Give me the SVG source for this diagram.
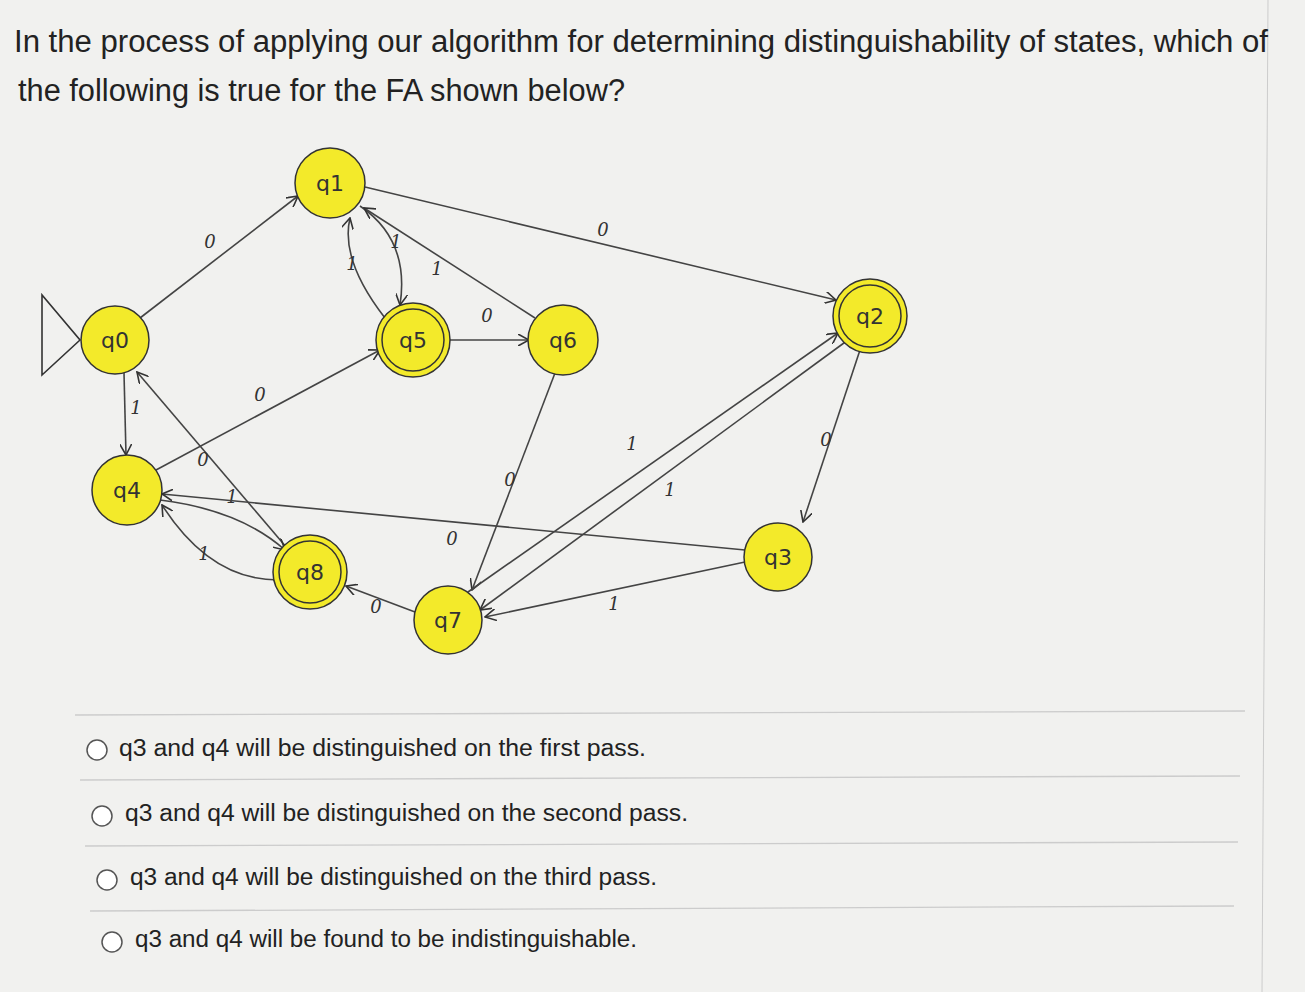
<svg xmlns="http://www.w3.org/2000/svg" width="1305" height="992" viewBox="0 0 1305 992">
<defs>
<marker id="a" viewBox="0 0 12 12" refX="11" refY="6" markerWidth="12" markerHeight="12" markerUnits="userSpaceOnUse" orient="auto"><path d="M0,0 L11,6 L0,12" fill="none" stroke="#333" stroke-width="1.6"/></marker>
</defs>
<style>
.n{fill:#f3ea2a;stroke:#333;stroke-width:1.5}
.t{font-family:"DejaVu Sans",sans-serif;font-size:22px;fill:#333;text-anchor:middle}
.e{fill:none;stroke:#444;stroke-width:1.6;marker-end:url(#a)}
.l{font-family:"DejaVu Serif",serif;font-style:italic;font-size:18px;fill:#333;text-anchor:middle}
.q{font-family:"Liberation Sans",Arial,sans-serif;font-size:31px;fill:#222}
.o{font-family:"Liberation Sans",Arial,sans-serif;font-size:23px;fill:#222}
.r{fill:#fff;stroke:#555;stroke-width:1.5}
.h{stroke:#ccc;stroke-width:1.3}
</style>
<rect width="1305" height="992" fill="#f1f1ef"/>
<line x1="1268" y1="0" x2="1262" y2="992" stroke="#ccc"/>
<text class="q" x="14" y="52" textLength="1254" lengthAdjust="spacingAndGlyphs">In the process of applying our algorithm for determining distinguishability of states, which of</text>
<text class="q" x="18" y="101" textLength="607" lengthAdjust="spacingAndGlyphs">the following is true for the FA shown below?</text>
<g id="connectors">
<path d="M42,295 L42,375 L80,340 Z" fill="none" stroke="#333" stroke-width="1.6"/>
<path class="e" d="M140,318 L298,196"/><text class="l" x="210" y="248">0</text>
<path class="e" d="M365,187 L836,300"/><text class="l" x="603" y="236">0</text>
<path class="e" d="M385,318 Q340,260 350,218"/><text class="l" x="352" y="270">1</text>
<path class="e" d="M360,206 Q410,240 400,305"/><text class="l" x="396" y="248">1</text>
<path class="e" d="M535,318 L364,208"/><text class="l" x="437" y="275">1</text>
<path class="e" d="M449,340 L529,340"/><text class="l" x="487" y="322">0</text>
<path class="e" d="M124,373 L126,455"/><text class="l" x="136" y="414">1</text>
<path class="e" d="M156,470 L380,350"/><text class="l" x="260" y="401">0</text>
<path class="e" d="M287,548 L137,372"/><text class="l" x="203" y="466">0</text>
<path class="e" d="M160,500 Q240,510 285,550"/><text class="l" x="232" y="503">1</text>
<path class="e" d="M278,580 Q210,580 162,505"/><text class="l" x="204" y="560">1</text>
<path class="e" d="M745,550 L162,494"/><text class="l" x="452" y="545">0</text>
<path class="e" d="M555,373 L472,590"/><text class="l" x="510" y="486">0</text>
<path class="e" d="M468,592 L838,333"/><text class="l" x="632" y="450">1</text>
<path class="e" d="M848,340 L480,610"/><text class="l" x="670" y="496">1</text>
<path class="e" d="M860,350 L803,522"/><text class="l" x="826" y="446">0</text>
<path class="e" d="M745,562 L485,617"/><text class="l" x="614" y="610">1</text>
<path class="e" d="M415,612 L346,586"/><text class="l" x="376" y="613">0</text>
</g>
<g id="q0"><circle class="n" cx="115" cy="340" r="34"/><text class="t" x="115" y="348">q0</text></g>
<g id="q1"><circle class="n" cx="330" cy="183" r="35"/><text class="t" x="330" y="191">q1</text></g>
<g id="q5"><circle class="n" cx="413" cy="340" r="37"/><circle cx="413" cy="340" r="31" fill="none" stroke="#333" stroke-width="1.5"/><text class="t" x="413" y="348">q5</text></g>
<g id="q6"><circle class="n" cx="563" cy="340" r="35"/><text class="t" x="563" y="348">q6</text></g>
<g id="q2"><circle class="n" cx="870" cy="316" r="37"/><circle cx="870" cy="316" r="31" fill="none" stroke="#333" stroke-width="1.5"/><text class="t" x="870" y="324">q2</text></g>
<g id="q4"><circle class="n" cx="127" cy="490" r="35"/><text class="t" x="127" y="498">q4</text></g>
<g id="q8"><circle class="n" cx="310" cy="572" r="37"/><circle cx="310" cy="572" r="31" fill="none" stroke="#333" stroke-width="1.5"/><text class="t" x="310" y="580">q8</text></g>
<g id="q7"><circle class="n" cx="448" cy="620" r="34"/><text class="t" x="448" y="628">q7</text></g>
<g id="q3"><circle class="n" cx="778" cy="557" r="34"/><text class="t" x="778" y="565">q3</text></g>
<g id="options">
<line class="h" x1="75" y1="715" x2="1245" y2="711"/>
<circle class="r" cx="97" cy="750" r="10"/><text class="o" x="119" y="756" textLength="527" lengthAdjust="spacingAndGlyphs">q3 and q4 will be distinguished on the first pass.</text>
<line class="h" x1="80" y1="780" x2="1240" y2="776"/>
<circle class="r" cx="102" cy="816" r="10"/><text class="o" x="125" y="821" textLength="563" lengthAdjust="spacingAndGlyphs">q3 and q4 will be distinguished on the second pass.</text>
<line class="h" x1="85" y1="846" x2="1238" y2="842"/>
<circle class="r" cx="107" cy="880" r="10"/><text class="o" x="130" y="885" textLength="527" lengthAdjust="spacingAndGlyphs">q3 and q4 will be distinguished on the third pass.</text>
<line class="h" x1="90" y1="911" x2="1234" y2="906"/>
<circle class="r" cx="112" cy="942" r="10"/><text class="o" x="135" y="947" textLength="502" lengthAdjust="spacingAndGlyphs">q3 and q4 will be found to be indistinguishable.</text>
</g>
</svg>
